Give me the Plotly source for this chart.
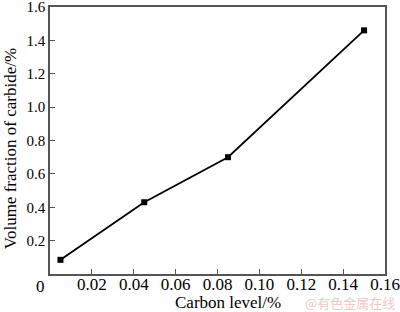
import plotly.graph_objects as go

carbon_level = [0.005, 0.045, 0.085, 0.15]
volume_fraction = [0.085, 0.43, 0.70, 1.46]
x_ticks = [0.02, 0.04, 0.06, 0.08, 0.10, 0.12, 0.14, 0.16]
x_tick_labels = ["0.02", "0.04", "0.06", "0.08", "0.10", "0.12", "0.14", "0.16"]
y_ticks = [0.2, 0.4, 0.6, 0.8, 1.0, 1.2, 1.4, 1.6]
y_tick_labels = ["0.2", "0.4", "0.6", "0.8", "1.0", "1.2", "1.4", "1.6"]
x_title = "Carbon level/%"
y_title = "Volume fraction of carbide/%"

font = "Liberation Serif"
fig = go.Figure()
fig.add_trace(go.Scatter(
    x=carbon_level, y=volume_fraction, mode="lines+markers",
    line=dict(color="black", width=1.8),
    marker=dict(symbol="square", size=6, color="black"),
    showlegend=False, cliponaxis=False))

axis_common = dict(showline=True, linecolor="#555555", linewidth=1.5, mirror=True,
                   ticks="inside", ticklen=5, tickcolor="#555555", tickwidth=1.2,
                   showgrid=False, zeroline=False, automargin=False,
                   ticklabeloverflow="allow")
fig.update_xaxes(range=[0, 0.16], tickvals=x_ticks, ticktext=x_tick_labels,
                 tickfont=dict(family=font, size=17, color="black"),
                 ticklabelstandoff=-6, **axis_common)
fig.update_yaxes(range=[0, 1.6], tickvals=y_ticks, ticktext=y_tick_labels,
                 tickfont=dict(family=font, size=15, color="black"),
                 **axis_common)
fig.add_annotation(text="0", x=0, y=0, xref="x", yref="y", xanchor="right", yanchor="top",
                   xshift=-3, yshift=-1, showarrow=False,
                   font=dict(family=font, size=17, color="black"))
fig.add_annotation(text=x_title, x=0.53, y=-0.108, xref="paper", yref="paper",
                   xanchor="center", yanchor="middle", showarrow=False,
                   font=dict(family=font, size=17, color="black"))
fig.add_annotation(text=y_title, x=-0.119, y=0.468, xref="paper", yref="paper",
                   xanchor="center", yanchor="middle", textangle=-90, showarrow=False,
                   font=dict(family=font, size=17, color="black"))
fig.add_annotation(text="@有色金属在线", x=1.036, y=-0.108, xref="paper", yref="paper",
                   xanchor="right", yanchor="middle", showarrow=False,
                   font=dict(family="Noto Sans CJK SC", size=13, color="#f0c8c8"))
fig.update_layout(width=400, height=312, margin=dict(l=50, r=15, t=7, b=38),
                  paper_bgcolor="white", plot_bgcolor="white")
fig.write_html("out.html")
